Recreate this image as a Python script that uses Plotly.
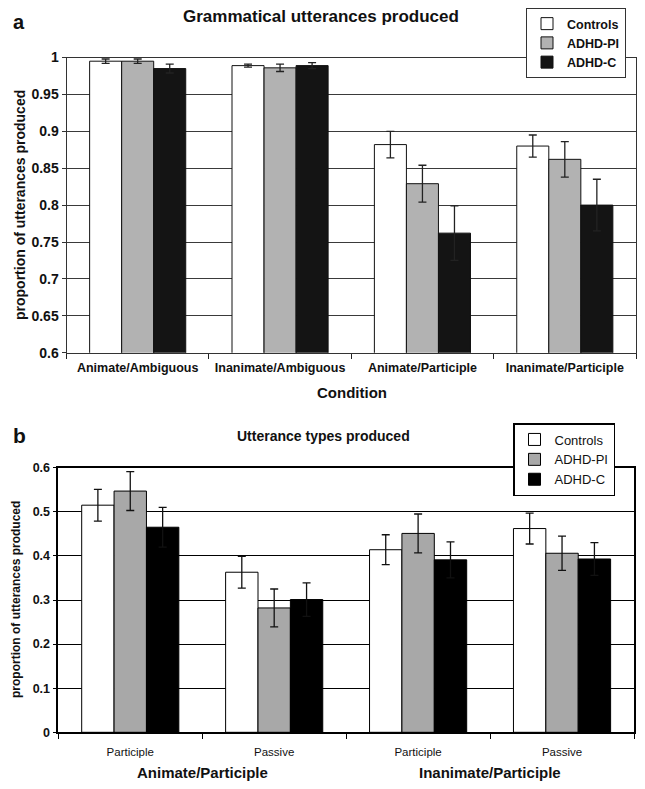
import plotly.graph_objects as go

# ---------------- data ----------------
series_names = ["Controls", "ADHD-PI", "ADHD-C"]

# Panel a: Grammatical utterances produced
conditions_a = ["Animate/Ambiguous", "Inanimate/Ambiguous", "Animate/Participle", "Inanimate/Participle"]
controls_a = [0.995, 0.989, 0.882, 0.880]
adhd_pi_a = [0.995, 0.986, 0.829, 0.862]
adhd_c_a = [0.985, 0.989, 0.762, 0.800]
controls_a_err = [0.003, 0.002, 0.018, 0.015]
adhd_pi_a_err = [0.003, 0.005, 0.025, 0.024]
adhd_c_a_err = [0.006, 0.004, 0.037, 0.035]
yticks_a = [0.6, 0.65, 0.7, 0.75, 0.8, 0.85, 0.9, 0.95, 1.0]
yticktext_a = ["0.6", "0.65", "0.7", "0.75", "0.8", "0.85", "0.9", "0.95", "1"]

# Panel b: Utterance types produced
groups_b = ["Animate/Participle", "Animate/Participle", "Inanimate/Participle", "Inanimate/Participle"]
types_b = ["Participle", "Passive", "Participle", "Passive"]
controls_b = [0.515, 0.363, 0.414, 0.462]
adhd_pi_b = [0.547, 0.282, 0.451, 0.406]
adhd_c_b = [0.465, 0.301, 0.391, 0.393]
controls_b_err = [0.036, 0.036, 0.034, 0.035]
adhd_pi_b_err = [0.044, 0.043, 0.044, 0.039]
adhd_c_b_err = [0.045, 0.038, 0.041, 0.037]
yticks_b = [0, 0.1, 0.2, 0.3, 0.4, 0.5, 0.6]
yticktext_b = ["0", "0.1", "0.2", "0.3", "0.4", "0.5", "0.6"]
group_labels_b = ["Animate/Participle", "Inanimate/Participle"]

# ---------------- styling ----------------
OFF = 8                      # page body margin of the html page
W, H = 645 - OFF, 789 - OFF  # figure size so that it fills the window
FONT = "Liberation Sans"
fill_a = ["#ffffff", "#b2b2b2", "#141414"]
fill_b = ["#ffffff", "#a8a8a8", "#000000"]

def px_x(p):
    return (p - OFF) / W

def px_y(p):
    return 1 - (p - OFF) / H

fig = go.Figure()

vals_a = [controls_a, adhd_pi_a, adhd_c_a]
errs_a = [controls_a_err, adhd_pi_a_err, adhd_c_a_err]
for name, v, e, c in zip(series_names, vals_a, errs_a, fill_a):
    fig.add_trace(go.Bar(
        x=conditions_a, y=v, name=name,
        marker=dict(color=c, line=dict(color="#111111", width=1)),
        error_y=dict(type="data", array=e, color="#222222", thickness=1.3, width=4),
        xaxis="x", yaxis="y", legend="legend",
    ))

cat_keys_b = [g + " | " + t for g, t in zip(groups_b, types_b)]
vals_b = [controls_b, adhd_pi_b, adhd_c_b]
errs_b = [controls_b_err, adhd_pi_b_err, adhd_c_b_err]
for name, v, e, c in zip(series_names, vals_b, errs_b, fill_b):
    fig.add_trace(go.Bar(
        x=cat_keys_b, y=v, name=name,
        marker=dict(color=c, line=dict(color="#000000", width=1)),
        error_y=dict(type="data", array=e, color="#111111", thickness=1.3, width=4),
        xaxis="x2", yaxis="y2", legend="legend2",
    ))

bold = dict(family=FONT, color="#111111", weight="bold")

fig.update_layout(
    width=W, height=H,
    margin=dict(l=0, r=0, t=0, b=0, autoexpand=False),
    paper_bgcolor="white", plot_bgcolor="white",
    barmode="group", bargap=0.325, bargroupgap=0,
    font=dict(family=FONT, color="#111111"),
    xaxis=dict(
        domain=[px_x(66.5), px_x(636)], anchor="y", type="category",
        tickson="boundaries", ticks="outside", ticklen=5, tickcolor="#222",
        showline=True, mirror=True, linecolor="#333333", linewidth=1,
        tickfont=dict(size=12.5, **bold), showgrid=False, tickangle=0,
        ticklabelstandoff=3, automargin=False,
    ),
    yaxis=dict(
        domain=[px_y(352.7), px_y(57.5)], anchor="x", range=[0.6, 1.0],
        tickmode="array", tickvals=yticks_a, ticktext=yticktext_a,
        ticks="outside", ticklen=4, tickcolor="#333",
        showline=True, mirror=True, linecolor="#333333", linewidth=1,
        showgrid=True, gridcolor="#3a3a3a", gridwidth=1,
        tickfont=dict(size=14, **bold), zeroline=False, automargin=False,
    ),
    xaxis2=dict(
        domain=[px_x(58.3), px_x(634)], anchor="y2", type="category",
        tickmode="array", tickvals=cat_keys_b, ticktext=types_b,
        tickson="boundaries", ticks="outside", ticklen=5, tickcolor="#000",
        showline=True, mirror=True, linecolor="#000000", linewidth=1.5,
        tickfont=dict(size=11.5, family=FONT, color="#111111"), showgrid=False,
        tickangle=0, ticklabelstandoff=8, automargin=False,
    ),
    yaxis2=dict(
        domain=[px_y(732.3), px_y(467.7)], anchor="x2", range=[0, 0.6],
        tickmode="array", tickvals=yticks_b, ticktext=yticktext_b,
        ticks="outside", ticklen=4, tickcolor="#000",
        showline=True, mirror=True, linecolor="#000000", linewidth=1.5,
        showgrid=True, gridcolor="#000000", gridwidth=1.4,
        tickfont=dict(size=12.5, **bold), zeroline=False, automargin=False,
    ),
    legend=dict(
        x=px_x(526), y=px_y(8), xanchor="left", yanchor="top",
        bgcolor="white", bordercolor="#333333", borderwidth=1,
        font=dict(size=12.5, **bold), itemwidth=30, traceorder="normal",
        tracegroupgap=0,
    ),
    legend2=dict(
        x=px_x(513), y=px_y(423), xanchor="left", yanchor="top",
        bgcolor="white", bordercolor="#000000", borderwidth=1.5,
        font=dict(size=13, family=FONT, color="#111111"), itemwidth=30,
        traceorder="normal", tracegroupgap=0,
    ),
)

annotations = [
    dict(text="a", x=px_x(19), y=px_y(9), yanchor="top", font=dict(size=20, **bold)),
    dict(text="Grammatical utterances produced", x=px_x(321), y=px_y(16), font=dict(size=17, **bold)),
    dict(text="Condition", x=px_x(352), y=px_y(392), font=dict(size=15, **bold)),
    dict(text="proportion of utterances produced", x=px_x(20), y=px_y(205), textangle=-90,
         font=dict(size=14, **bold)),
    dict(text="b", x=px_x(19), y=px_y(435), font=dict(size=21, **bold)),
    dict(text="Utterance types produced", x=px_x(323), y=px_y(436), font=dict(size=14, **bold)),
    dict(text="proportion of utterances produced", x=px_x(16), y=px_y(600), textangle=-90,
         font=dict(size=12, **bold)),
]
for a in annotations:
    a.setdefault("yanchor", "middle")
    a.update(xref="paper", yref="paper", showarrow=False, xanchor="center")

for i, g in enumerate(group_labels_b):
    annotations.append(dict(
        text=g, x=0.5 + 2 * i, y=px_y(772), xref="x2", yref="paper",
        showarrow=False, xanchor="center", yanchor="middle",
        font=dict(size=15, **bold),
    ))

fig.update_layout(annotations=annotations)

fig.write_html("out.html")
